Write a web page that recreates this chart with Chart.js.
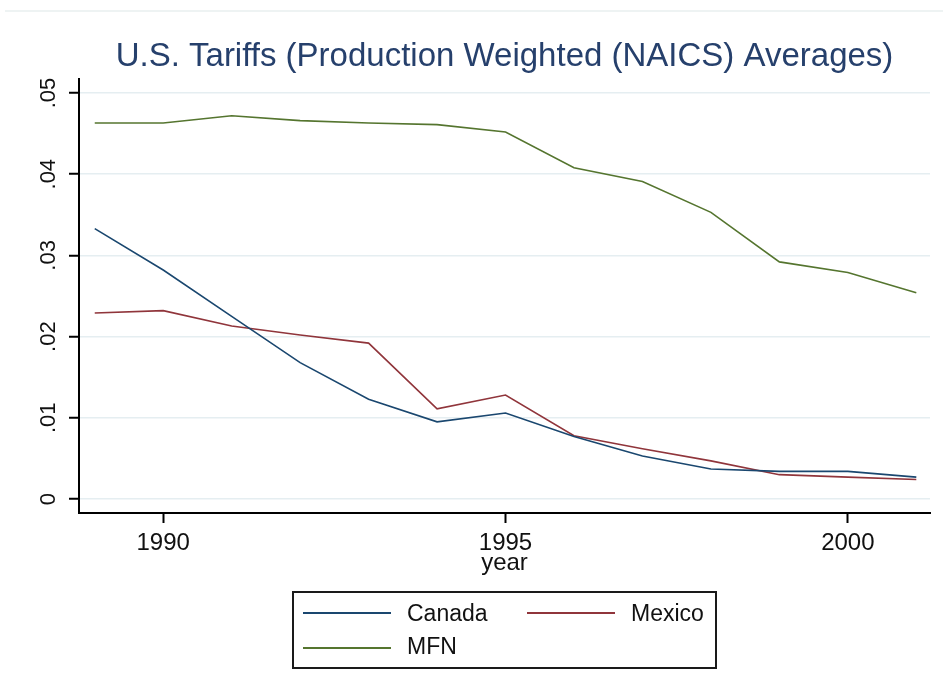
<!DOCTYPE html>
<html>
<head>
<meta charset="utf-8">
<script src="https://cdn.jsdelivr.net/npm/chart.js@4.4.1/dist/chart.umd.min.js"></script>
<style>
  html, body { margin: 0; padding: 0; background: #ffffff; }
  #wrap { width: 943px; height: 694px; }
</style>
</head>
<body>
<div id="wrap"><canvas id="c" width="943" height="694"></canvas></div>
<script>
// ---- data ----
const years = [1989, 1990, 1991, 1992, 1993, 1994, 1995, 1996, 1997, 1998, 1999, 2000, 2001];
const canada = [0.0333, 0.0282, 0.0225, 0.0168, 0.0123, 0.0095, 0.0106, 0.0077, 0.0053, 0.0037, 0.0034, 0.0034, 0.0027];
const mexico = [0.0229, 0.0232, 0.0213, 0.0202, 0.0192, 0.0111, 0.0128, 0.0078, 0.0062, 0.0047, 0.0030, 0.0027, 0.0024];
const mfn    = [0.0463, 0.0463, 0.0472, 0.0466, 0.0463, 0.0461, 0.0452, 0.0408, 0.0391, 0.0353, 0.0292, 0.0279, 0.0254];
const seriesNames = ['Canada', 'Mexico', 'MFN'];
const xTickValues = [1990, 1995, 2000];
const xTickLabels = ['1990', '1995', '2000'];
const yTickValues = [0, 0.01, 0.02, 0.03, 0.04, 0.05];
const yTickLabels = ['0', '.01', '.02', '.03', '.04', '.05'];
const titleText = 'U.S. Tariffs (Production Weighted (NAICS) Averages)';
const xTitle = 'year';

const FONT = '"Liberation Sans", Arial, sans-serif';
const colors = ['#1a476f', '#90353b', '#55752f'];

const toPts = arr => arr.map((v, i) => ({ x: years[i], y: v }));

const decorPlugin = {
  id: 'decor',
  beforeDraw(chart) {
    const ctx = chart.ctx;
    ctx.save();
    ctx.strokeStyle = '#e9efef';
    ctx.lineWidth = 1.5;
    ctx.beginPath();
    ctx.moveTo(5, 11);
    ctx.lineTo(943, 11);
    ctx.stroke();
    ctx.restore();
  },
  afterDraw(chart) {
    const ctx = chart.ctx;
    const ys = chart.scales.y;
    ctx.save();
    // rotated y tick labels
    ctx.fillStyle = '#111';
    ctx.font = '22px ' + FONT;
    ctx.textAlign = 'center';
    ctx.textBaseline = 'middle';
    yTickValues.forEach((v, i) => {
      const py = ys.getPixelForValue(v);
      ctx.save();
      ctx.translate(49, py);
      ctx.rotate(-Math.PI / 2);
      ctx.fillText(yTickLabels[i], 0, 0);
      ctx.restore();
    });
    // legend box
    const bx = 293, by = 592, bw = 423, bh = 76;
    ctx.strokeStyle = '#1a1a1a';
    ctx.lineWidth = 2;
    ctx.strokeRect(bx, by, bw, bh);
    const items = [
      { x: 303, y: 613, tx: 407, ty: 621 },
      { x: 527, y: 613, tx: 631, ty: 621 },
      { x: 303, y: 648, tx: 407, ty: 654 }
    ];
    ctx.font = '23px ' + FONT;
    ctx.textAlign = 'left';
    ctx.textBaseline = 'alphabetic';
    chart.data.datasets.forEach((ds, i) => {
      const it = items[i];
      ctx.strokeStyle = ds.borderColor;
      ctx.lineWidth = 1.8;
      ctx.beginPath();
      ctx.moveTo(it.x, it.y);
      ctx.lineTo(it.x + 88, it.y);
      ctx.stroke();
      ctx.fillStyle = '#111';
      ctx.fillText(ds.label, it.tx, it.ty);
    });
    ctx.restore();
  }
};

new Chart(document.getElementById('c'), {
  type: 'line',
  data: {
    datasets: [
      { label: seriesNames[0], data: toPts(canada), borderColor: colors[0] },
      { label: seriesNames[1], data: toPts(mexico), borderColor: colors[1] },
      { label: seriesNames[2], data: toPts(mfn), borderColor: colors[2] }
    ]
  },
  options: {
    responsive: false,
    animation: false,
    devicePixelRatio: 1,
    layout: { padding: { left: 69, right: 13, top: 0, bottom: 119 } },
    elements: {
      line: { borderWidth: 1.6, tension: 0, fill: false },
      point: { radius: 0, hoverRadius: 0 }
    },
    plugins: {
      legend: { display: false },
      tooltip: { enabled: false },
      title: {
        display: true,
        text: titleText,
        fullSize: false,
        color: '#26406c',
        font: { family: FONT, size: 33, weight: 'normal', lineHeight: 1.2 },
        padding: { top: 37, bottom: 2 }
      }
    },
    scales: {
      x: {
        type: 'linear',
        min: 1988.77,
        max: 2001.2,
        afterBuildTicks: s => { s.ticks = xTickValues.map(v => ({ value: v })); },
        afterFit: s => { s.height = 62; },
        ticks: {
          color: '#111',
          padding: 8,
          font: { family: FONT, size: 24, lineHeight: 1 },
          callback: (v) => xTickLabels[xTickValues.indexOf(v)],
          maxRotation: 0
        },
        grid: { color: 'rgba(0,0,0,0)', tickColor: '#000', tickLength: 10, tickWidth: 2, drawOnChartArea: false },
        border: { display: true, color: '#000', width: 2 },
        title: {
          display: true,
          text: xTitle,
          color: '#111',
          font: { family: FONT, size: 24, lineHeight: 1 },
          padding: { top: 0, bottom: 0 }
        }
      },
      y: {
        type: 'linear',
        min: -0.00172,
        max: 0.05177,
        afterBuildTicks: s => { s.ticks = yTickValues.map(v => ({ value: v })); },
        ticks: { display: false },
        grid: { color: '#e5eef1', lineWidth: 1.5, tickColor: '#000', tickLength: 10, tickWidth: 2 },
        border: { display: true, color: '#000', width: 2 }
      }
    }
  },
  plugins: [decorPlugin]
});
</script>
</body>
</html>
